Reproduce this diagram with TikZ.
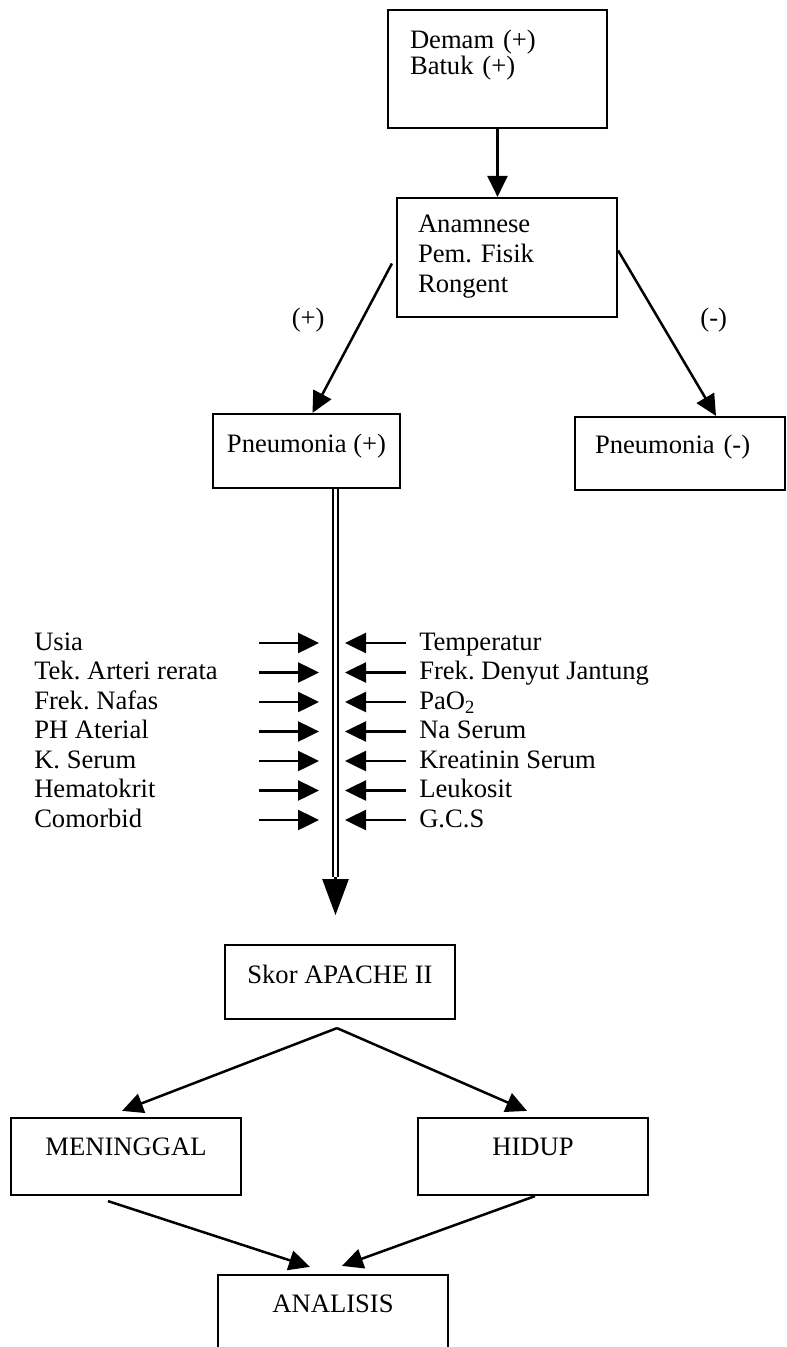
\documentclass[tikz,border=0pt]{standalone}
\usepackage{fontspec}
\setmainfont{Liberation Serif}
\usepackage{tikz}
\usetikzlibrary{positioning, arrows.meta, calc}
\frenchspacing

\begin{document}
\begin{tikzpicture}[x=0.5pt,y=-0.5pt,>={Triangle[length=10.5pt,width=10pt]},
                   line width=1.25pt,font=\fontsize{13.3}{15}\selectfont,
                   kotak/.style={draw,line width=1.1pt,inner sep=0pt,align=center,minimum width=115pt},
                   kotakkiri/.style={draw,line width=1.1pt,inner ysep=0pt,inner xsep=10.5pt,align=left},
                   faktor/.style={inner sep=0pt,anchor=west,text height=9.5pt,text depth=2.5pt}]
\useasboundingbox (0,0) rectangle (786,1347);

\node[kotakkiri,text width=87.5pt,inner xsep=11pt,text height=19.5pt,text depth=39.5pt,
      font=\fontsize{13.3}{13}\selectfont] (demam) at (497.5,69) {Demam (+)\\Batuk (+)};
\node[kotakkiri,text width=89pt,text height=17.5pt,text depth=42pt] (anamnese) at (507,257.5) {Anamnese\\Pem. Fisik\\Rongent};
\node[kotak,minimum width=93.5pt,text height=19pt,text depth=18pt] (pplus) at (306.5,451) {Pneumonia (+)};
\node[kotakkiri,text width=85pt,inner xsep=10pt,text height=18pt,text depth=18.5pt] (pminus) at (680,453.5) {Pneumonia (-)};

\path[->] (demam.south) edge (demam.south |- anamnese.north)
([xshift=-2pt,yshift=-3pt]anamnese.west) edge node[pos=0.38,left=18pt,inner sep=0pt] {(+)} ([xshift=3pt]pplus.north)
([yshift=3.5pt]anamnese.east) edge node[pos=0.42,right=20pt,inner sep=0pt] {(-)} ([xshift=18pt]pminus.north);

% faktor kiri
\node[faktor] (usia) at (33,643) {Usia};
\node[faktor] (tekanan) at (33,672.5) {Tek. Arteri rerata};
\node[faktor] (nafas) at (33,702) {Frek. Nafas};
\node[faktor] (ph) at (33,731.5) {PH Aterial};
\node[faktor] (kalium) at (33,761) {K. Serum};
\node[faktor] (hema) at (33,790.5) {Hematokrit};
\node[faktor] (comorbid) at (33,820) {Comorbid};

% faktor kanan
\node[faktor] (suhu) at (418,643) {Temperatur};
\node[faktor] (jantung) at (418,672.5) {Frek. Denyut Jantung};
\node[faktor] (pao) at (418,702) {PaO\textsubscript{2}};
\node[faktor] (natrium) at (418,731.5) {Na Serum};
\node[faktor] (kreatinin) at (418,761) {Kreatinin Serum};
\node[faktor] (leukosit) at (418,790.5) {Leukosit};
\node[faktor] (gcs) at (418,820) {G.C.S};

\coordinate (kiri) at (259,0);
\coordinate (kirit) at (319,0);
\coordinate (kanant) at (345,0);
\coordinate (kanan) at (406,0);

\path[->] (usia -| kiri) edge (usia -| kirit)
(tekanan -| kiri) edge (tekanan -| kirit)
(nafas -| kiri) edge (nafas -| kirit)
(ph -| kiri) edge (ph -| kirit)
(kalium -| kiri) edge (kalium -| kirit)
(hema -| kiri) edge (hema -| kirit)
(comorbid -| kiri) edge (comorbid -| kirit);
\path[->] (suhu -| kanan) edge (suhu -| kanant)
(jantung -| kanan) edge (jantung -| kanant)
(pao -| kanan) edge (pao -| kanant)
(natrium -| kanan) edge (natrium -| kanant)
(kreatinin -| kanan) edge (kreatinin -| kanant)
(leukosit -| kanan) edge (leukosit -| kanant)
(gcs -| kanan) edge (gcs -| kanant);

% garis ganda ke skor
\coordinate (atas) at ([xshift=14.5pt]pplus.south);
\coordinate (pangkal) at ($(atas)+(0,388)$);
\coordinate (ujung) at ($(atas)+(0,426)$);
\draw[double,line width=0.9pt,double distance=1.4pt] (atas) -- (pangkal);
\draw[-{Triangle[length=18pt,width=13pt]}] (pangkal) -- (ujung);

\node[kotak,text height=19pt,text depth=18pt] (skor) at (340,982) {Skor APACHE II};
\node[kotak,text height=18.5pt,text depth=20pt] (mati) at (126,1156.5) {MENINGGAL};
\node[kotak,text height=18.5pt,text depth=20pt] (hidup) at (533,1156.5) {HIDUP};
\node[kotak,text height=18.5pt,text depth=20pt] (analisis) at (333,1313.5) {ANALISIS};

\coordinate (cabang) at ([xshift=-1.5pt,yshift=-4pt]skor.south);
\path[->] (cabang) edge ([xshift=-2pt,yshift=3pt]mati.north)
(cabang) edge ([xshift=-3pt,yshift=3pt]hidup.north)
([xshift=-9pt,yshift=-2.5pt]mati.south) edge ([xshift=-11.5pt,yshift=3.5pt]analisis.north)
([xshift=1pt]hidup.south) edge ([xshift=4.5pt,yshift=4pt]analisis.north);
\end{tikzpicture}
\end{document}
